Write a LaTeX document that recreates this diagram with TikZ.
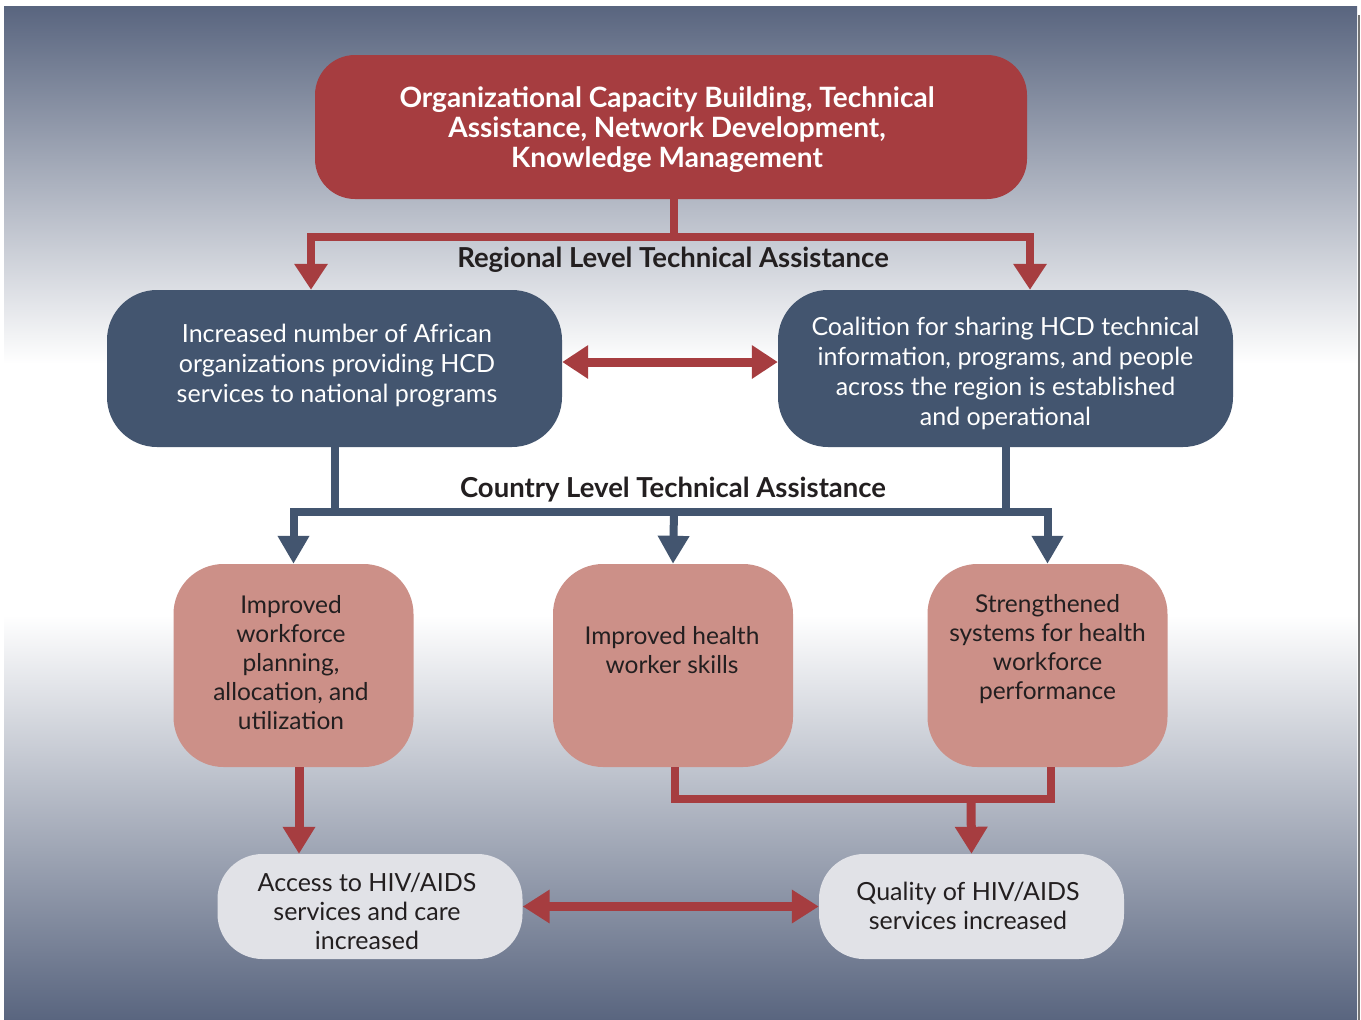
\documentclass[tikz,border=0pt]{standalone}
\usepackage{fontspec}
\setmainfont{Lato}
\usetikzlibrary{arrows.meta,calc}
\definecolor{bgdark}{HTML}{59657F}
\definecolor{cred}{HTML}{A63D40}
\definecolor{cblue}{HTML}{43556F}
\definecolor{cpink}{HTML}{CC9088}
\definecolor{clight}{HTML}{E1E2E7}
\definecolor{ctext}{HTML}{231F20}
\begin{document}
\begin{tikzpicture}[x=1pt,y=-1pt,line join=miter,
  redbox/.style={fill=cred,rounded corners=40pt,minimum width=712pt,minimum height=144pt,inner sep=0pt,text=white,align=center,font=\bfseries\fontsize{28}{30}\selectfont},
  bluebox/.style={fill=cblue,rounded corners=50pt,minimum width=455pt,minimum height=157pt,inner sep=0pt,text=white,align=center,font=\fontsize{25}{30}\selectfont},
  pinkbox/.style={fill=cpink,rounded corners=50pt,minimum width=240pt,minimum height=203pt,inner sep=0pt},
  pinktext/.style={text=ctext,align=center,inner sep=0pt,font=\fontsize{24.5}{29}\selectfont},
  lightbox/.style={fill=clight,rounded corners=45pt,minimum width=305pt,minimum height=105pt,inner sep=0pt,text=ctext,align=center,font=\fontsize{25}{29}\selectfont},
  lbl/.style={text=ctext,inner sep=0pt,font=\bfseries\fontsize{27.5}{28}\selectfont},
  redline/.style={draw=cred,line width=8pt},
  blueline/.style={draw=cblue,line width=8pt},
  rtip/.style={-{Triangle[length=26pt,width=32pt]}},
  rtips/.style={{Triangle[length=26pt,width=32pt]}-{Triangle[length=26pt,width=32pt]}},
  btip/.style={-{Triangle[length=28pt,width=30pt]}},
  btips/.style={{Triangle[length=28pt,width=30pt]}-{Triangle[length=28pt,width=30pt]}}
]
\useasboundingbox (0,0) rectangle (1361,1020);
\fill[white] (0,0) rectangle (1361,1020);
\shade[top color=bgdark,bottom color=white] (4,6) rectangle (1357,364);
\fill[white] (4,363) rectangle (1357,616);
\shade[top color=white,bottom color=bgdark] (4,615) rectangle (1357,1020);
\fill[gray!90!black] (1357.5,15) rectangle (1359.5,1020);

% nodes
\node[redbox] (top) at (671,127) {};
\node[text=white,align=center,inner sep=0pt,font=\bfseries\fontsize{28}{30}\selectfont] (toptext) at (667,130) {Organizational Capacity Building, Technical\\Assistance, Network Development,\\Knowledge Management};
\node[bluebox] (b1) at (334.5,368.5) {};
\node[text=white,align=center,inner sep=0pt,font=\fontsize{25}{30}\selectfont] (b1text) at (337,366) {Increased number of African\\organizations providing HCD\\services to national programs};
\node[bluebox] (b2) at (1005.5,368.5) {};
\node[text=white,align=center,inner sep=0pt,font=\fontsize{25}{30}\selectfont] (b2text) at (1005.5,373) {Coalition for sharing HCD technical\\information, programs, and people\\across the region is established\\and operational};
\node[pinkbox] (p1) at (293.5,665.5) {};
\node[pinkbox] (p2) at (673,665.5) {};
\node[pinkbox] (p3) at (1047.5,665.5) {};
\node[pinktext] (t1) at (291,663) {Improved\\workforce\\planning,\\allocation, and\\utilization};
\node[pinktext] (t2) at (672,650) {Improved health\\worker skills};
\node[pinktext] (t3) at (1047.5,649) {Strengthened\\systems for health\\workforce\\performance};
\node[lightbox] (l1) at (370,906.5) {};
\node[text=ctext,align=center,inner sep=0pt,font=\fontsize{25}{29}\selectfont] (l1text) at (367,911) {Access to HIV/AIDS\\services and care\\increased};
\node[lightbox] (l2) at (971.5,906.5) {};
\node[text=ctext,align=center,inner sep=0pt,font=\fontsize{25}{29}\selectfont] (l2text) at (968,906) {Quality of HIV/AIDS\\services increased};
\node[lbl] (rl) at (673,260) {Regional Level Technical Assistance};
\node[lbl] (cl) at (673,490) {Country Level Technical Assistance};

% regional connectors
\coordinate (rj) at (674,237);
\coordinate (xa) at (311,237);
\coordinate (xb) at (1030,237);
\draw[redline] (rj |- top.south) -- (rj);
\draw[redline,rtips] (xa |- b1.north) |- (rj) -| (xb |- b2.north);
\coordinate (hy) at (0,362);
\draw[draw=cred,line width=9pt,rtips] (b1.east |- hy) -- (b2.west |- hy);

% country connectors
\coordinate (cj) at (674,512);
\draw[blueline] (b1.south) -- (b1.south |- cj);
\draw[blueline] (b2.south) -- (b2.south |- cj);
\draw[blueline,btips] (p1.north) |- (cj) -| (p3.north);
\draw[blueline,btip] (cj) -- (p2.north);

% outcome connectors
\coordinate (a1) at ($(p1.south)+(5.5,0)$);
\draw[draw=cred,line width=9pt,-{Triangle[length=27pt,width=31pt]}] (a1) -- (a1 |- l1.north);
\coordinate (bj) at (971,799);
\coordinate (a2) at ($(p2.south)+(2,0)$);
\coordinate (a3) at ($(p3.south)+(3.5,0)$);
\draw[redline] (a2) |- (bj) -| (a3);
\draw[draw=cred,line width=9pt,-{Triangle[length=27pt,width=31pt]}] (bj) -- (l2.north);
\draw[draw=cred,line width=9pt,{Triangle[length=27pt,width=32pt]}-{Triangle[length=27pt,width=32pt]}] (l1.east) -- (l2.west);
\end{tikzpicture}
\end{document}
